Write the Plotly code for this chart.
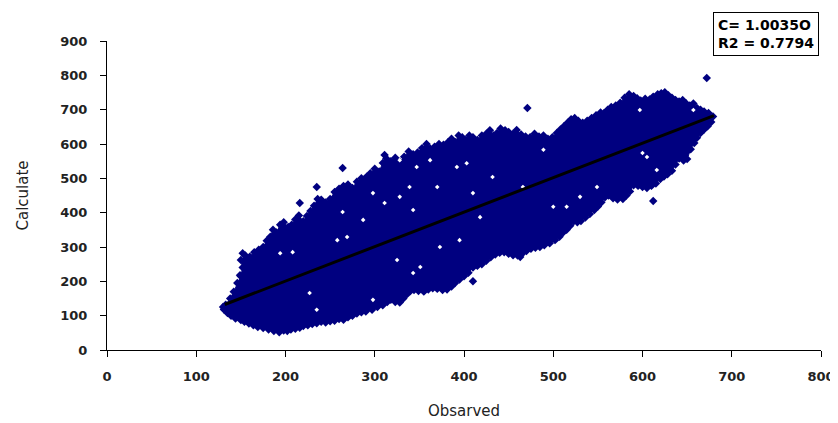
import plotly.graph_objects as go

# points along the ragged upper edge of the cloud (x ascending)
upper_x = [133, 138, 142, 146, 150, 152, 150, 155, 160, 165, 170, 175, 179, 183, 186, 190, 194, 198, 203, 207,
           211, 215, 220, 224, 228, 232, 236, 240, 245, 250, 255, 260, 265, 270, 275, 280, 285, 291, 295, 300,
           305, 309, 313, 318, 323, 328, 333, 338, 343, 348, 353, 358, 362, 367, 372, 377, 382, 386, 390, 394,
           398, 402, 406, 410, 415, 420, 425, 429, 433, 437, 441, 446, 450, 455, 459, 464, 469, 474, 479, 484,
           489, 494, 499, 504, 508, 512, 516, 520, 524, 528, 533, 538, 543, 548, 553, 557, 561, 565, 570, 575,
           580, 585, 590, 594, 598, 603, 608, 612, 617, 621, 625, 629, 633, 637, 641, 645, 649, 653, 657, 661,
           665, 669, 674, 679]
upper_y = [132, 150, 170, 195, 215, 240, 262, 275, 272, 285, 292, 300, 318, 330, 350, 342, 365, 372, 358, 365,
           380, 392, 375, 390, 405, 420, 440, 438, 430, 440, 460, 470, 478, 482, 472, 490, 500, 505, 515, 528,
           520, 545, 558, 550, 560, 548, 563, 578, 570, 575, 588, 600, 587, 592, 600, 598, 605, 615, 606, 625,
           620, 612, 625, 620, 612, 625, 630, 640, 625, 632, 645, 640, 635, 630, 641, 628, 622, 620, 630, 622,
           625, 615, 620, 632, 642, 652, 662, 672, 676, 668, 662, 668, 676, 684, 692, 690, 700, 708, 712, 720,
           735, 745, 740, 733, 727, 732, 730, 738, 745, 748, 751, 742, 735, 728, 724, 728, 718, 712, 718, 705,
           700, 695, 690, 680]

# points along the ragged lower edge of the cloud (x ascending)
lower_x = [131, 135, 139, 144, 150, 154, 159, 164, 169, 175, 181, 187, 193, 198, 202, 206, 211, 216, 220, 225,
           230, 235, 240, 245, 250, 255, 260, 265, 270, 275, 280, 285, 290, 297, 303, 309, 314, 318, 323, 328,
           332, 336, 340, 344, 349, 355, 360, 365, 370, 376, 381, 386, 390, 395, 400, 405, 410, 415, 420, 425,
           430, 435, 440, 445, 450, 455, 460, 465, 470, 475, 480, 485, 490, 496, 502, 507, 511, 515, 519, 523,
           527, 531, 536, 541, 546, 550, 554, 558, 562, 567, 572, 578, 582, 586, 590, 595, 600, 605, 610, 615,
           620, 624, 628, 633, 637, 641, 646, 650, 654, 658, 661, 665, 669, 673, 677]
lower_y = [118, 108, 100, 92, 87, 82, 77, 72, 67, 64, 60, 55, 52, 57, 55, 60, 62, 65, 70, 72,
           76, 78, 82, 80, 84, 85, 90, 88, 95, 100, 106, 110, 112, 117, 125, 130, 140, 146, 140, 138,
           150, 162, 172, 175, 172, 170, 176, 180, 178, 175, 176, 185, 195, 205, 215, 225, 240, 245, 250, 260,
           270, 278, 283, 285, 280, 276, 275, 280, 288, 295, 298, 300, 305, 311, 320, 330, 342, 350, 362, 375,
           372, 376, 386, 396, 408, 418, 430, 445, 450, 442, 438, 440, 450, 462, 480, 478, 475, 472, 478, 485,
           498, 505, 512, 522, 540, 558, 552, 556, 585, 603, 618, 632, 642, 652, 664]

# stray points standing apart from the cloud
iso_x = [130, 149, 152, 216, 235, 264, 311, 471, 672, 612, 410, 463]
iso_y = [125, 218, 282, 428, 475, 530, 568, 705, 792, 434, 200, 271]

# small holes inside the cloud
gap_x = [328, 347, 362, 392, 403, 343, 328, 339, 370, 410, 432, 466, 489, 515, 530, 600, 616, 343, 325, 395,
         373, 418, 500, 351, 549, 194, 208, 269, 287, 298, 264, 235, 227, 298, 311, 258, 657, 597, 605]
gap_y = [553, 533, 553, 533, 544, 408, 446, 475, 475, 457, 504, 475, 583, 417, 446, 574, 524, 224, 262, 320,
         300, 387, 417, 242, 475, 282, 285, 329, 379, 457, 402, 117, 166, 146, 428, 320, 699, 699, 562]

# fitted line  C = 1.0035 * O
slope = 1.0035
trend_x = [132, 680]
trend_y = [slope * v for v in trend_x]

x_ticks = [0, 100, 200, 300, 400, 500, 600, 700, 800]
y_ticks = [0, 100, 200, 300, 400, 500, 600, 700, 800, 900]

NAVY = "#000080"
FONT = "DejaVu Sans, Arial, sans-serif"

fig = go.Figure()
# the dense middle of the cloud is filled between the two edges
fig.add_trace(go.Scatter(x=upper_x + lower_x[::-1], y=upper_y + lower_y[::-1], mode="lines", fill="toself",
                         fillcolor=NAVY, line=dict(color=NAVY, width=1), hoverinfo="skip", showlegend=False))
fig.add_trace(go.Scatter(x=upper_x + lower_x + iso_x, y=upper_y + lower_y + iso_y, mode="markers",
                         marker=dict(symbol="diamond", size=6.5, color=NAVY, line=dict(width=0)),
                         showlegend=False))
fig.add_trace(go.Scatter(x=gap_x, y=gap_y, mode="markers", hoverinfo="skip",
                         marker=dict(symbol="diamond", size=3.5, color="white", line=dict(width=0)),
                         showlegend=False))
fig.add_trace(go.Scatter(x=trend_x, y=trend_y, mode="lines",
                         line=dict(color="black", width=3), showlegend=False))

axis_style = dict(showgrid=False, zeroline=False, showline=True, linecolor="black", linewidth=1,
                  ticks="outside", ticklen=6, tickcolor="black", automargin=False,
                  tickfont=dict(family=FONT, size=13, color="#222222", weight="bold"))

# the page body adds 8px, so margins are set 8px short on the left/top
fig.update_layout(
    width=838, height=423,
    margin=dict(l=99, r=25, t=33, b=81),
    paper_bgcolor="white", plot_bgcolor="white",
    font=dict(family=FONT, color="#222222"),
    xaxis=dict(range=[0, 800], tickvals=x_ticks, ticklabelstandoff=8, **axis_style,
               title=dict(text="Obsarved", font=dict(size=15), standoff=22)),
    yaxis=dict(range=[0, 900], tickvals=y_ticks, ticklabelstandoff=10, **axis_style,
               title=dict(text="Calculate", font=dict(size=15), standoff=28)),
    annotations=[dict(xref="paper", yref="paper", x=0.997, y=1.094, xanchor="right", yanchor="top",
                      text="C= 1.0035O<br>R2 = 0.7794", showarrow=False, align="left",
                      font=dict(family=FONT, size=14, color="black", weight="bold"),
                      bordercolor="black", borderwidth=1, borderpad=4, bgcolor="white")],
)

fig.write_html("out.html")
